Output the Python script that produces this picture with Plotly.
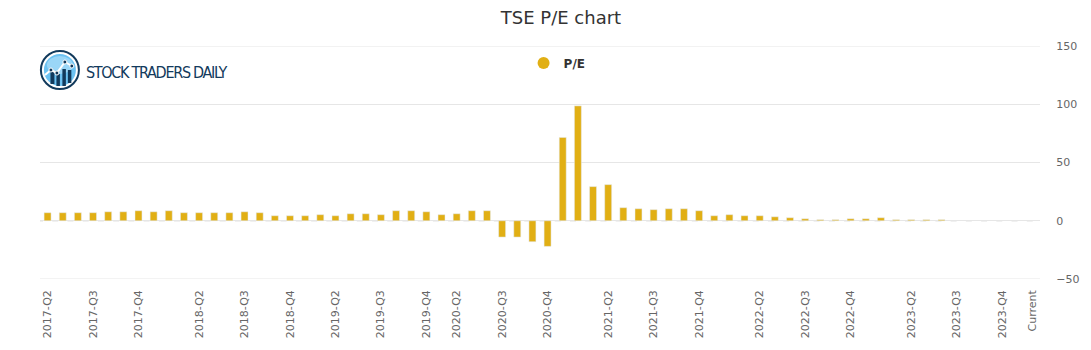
import plotly.graph_objects as go

# ---------------- data ----------------
pe_values = [
    6.9, 6.9, 6.9, 6.9, 7.7, 7.7, 8.6, 7.7, 8.6, 6.9,
    6.9, 6.9, 6.9, 7.7, 6.9, 4.3, 4.3, 4.3, 5.2, 4.3,
    6.0, 6.0, 5.2, 8.6, 8.6, 7.7, 5.2, 6.0, 8.6, 8.6,
    -14.0, -14.0, -18.0, -22.0, 71.5, 98.6, 29.3, 31.0, 11.2, 10.3,
    9.5, 10.3, 10.3, 8.6, 4.3, 5.2, 4.3, 4.3, 3.4, 2.6,
    1.7, 0.9, 0.9, 1.7, 1.7, 2.6, 0.9, 0.9, 0.9, 0.9,
    None, None, None, None, None, None,
]
x_index = list(range(len(pe_values)))
tick_positions = [0, 3, 6, 10, 13, 16, 19, 22, 25, 27, 30, 33, 37, 40, 43, 47, 50, 53, 57, 60, 63, 65]
tick_labels = ["2017-Q2", "2017-Q3", "2017-Q4", "2018-Q2", "2018-Q3", "2018-Q4",
               "2019-Q2", "2019-Q3", "2019-Q4", "2020-Q2", "2020-Q3", "2020-Q4",
               "2021-Q2", "2021-Q3", "2021-Q4", "2022-Q2", "2022-Q3", "2022-Q4",
               "2023-Q2", "2023-Q3", "2023-Q4", "Current"]
y_ticks = [-50, 0, 50, 100, 150]

BAR = "#E1AF14"
NAVY = "#123A5C"
GRID = "#e6e6e6"
W, H = 1091, 350
L, R, T, B = 40, 46, 46, 71
PW, PH = W - L - R, H - T - B


def px(xp):
    return (xp - L) / PW


def py(yp):
    return (H - B - yp) / PH


fig = go.Figure()
fig.add_trace(go.Bar(x=x_index, y=pe_values, marker_color=BAR, showlegend=False,
                     hoverinfo="y"))
fig.add_trace(go.Scatter(x=[None], y=[None], mode="markers", name="P/E",
                         marker=dict(color=BAR, size=12, symbol="circle")))

shapes = []
# edge gridlines (plotly omits gridlines exactly on the range edges)
for yv in (y_ticks[0], y_ticks[-1]):
    shapes.append(dict(type="line", xref="paper", yref="y", x0=0, x1=1, y0=yv, y1=yv,
                       line=dict(color=GRID, width=1), layer="below"))
# cover solid zero gridline, then dashed zero line
shapes.append(dict(type="line", xref="paper", yref="y", x0=0, x1=1, y0=0, y1=0,
                   line=dict(color="white", width=3), layer="below"))
n = len(pe_values)
shapes.append(dict(type="line", xref="x", yref="y", x0=0.5 - 3 / 15.227 - 1, x1=n - 0.5,
                   y0=0, y1=0, line=dict(color="#e2e2e2", width=1.5, dash="6px,9.227px"),
                   layer="below"))

# logo
cx, cy = 60, 70
shapes.append(dict(type="circle", xref="paper", yref="paper", xsizemode="pixel", ysizemode="pixel",
                   xanchor=px(cx), yanchor=py(cy), x0=-19, x1=19, y0=-19, y1=19,
                   line=dict(color=NAVY, width=2), fillcolor="white"))
shapes.append(dict(type="circle", xref="paper", yref="paper", xsizemode="pixel", ysizemode="pixel",
                   xanchor=px(cx), yanchor=py(cy), x0=-16, x1=16, y0=-16, y1=16,
                   line=dict(width=0), fillcolor="#6CC2F2"))
shapes.append(dict(type="circle", xref="paper", yref="paper", xsizemode="pixel", ysizemode="pixel",
                   xanchor=px(cx), yanchor=py(cy - 5), x0=-13, x1=13, y0=-9, y1=9,
                   line=dict(width=0), fillcolor="#9AD6F7"))
for (x0, x1, top, bot) in [(50.5, 54.5, 72, 84), (56.5, 60.0, 74, 86), (62.5, 66.0, 69, 86), (68.0, 71.5, 70, 83)]:
    shapes.append(dict(type="rect", xref="paper", yref="paper", x0=px(x0), x1=px(x1),
                       y0=py(bot), y1=py(top), line=dict(width=0), fillcolor=NAVY))
pts = [(45, 75), (51, 70), (57, 73), (65, 62), (72, 66)]
path = "M " + " L ".join(f"{px(a)},{py(b)}" for a, b in pts)
shapes.append(dict(type="path", xref="paper", yref="paper", path=path,
                   line=dict(color="white", width=2)))
for a, b in pts[1:]:
    shapes.append(dict(type="circle", xref="paper", yref="paper", xsizemode="pixel", ysizemode="pixel",
                       xanchor=px(a), yanchor=py(b), x0=-2, x1=2, y0=-2, y1=2,
                       line=dict(color="white", width=1), fillcolor=NAVY))

fig.update_layout(
    width=W, height=H,
    margin=dict(l=L, r=R, t=T, b=B),
    paper_bgcolor="white", plot_bgcolor="white",
    font=dict(family="DejaVu Sans, sans-serif", color="#666666", size=11),
    title=dict(text="TSE P/E chart", x=561 / W, xanchor="center", y=1 - 18 / H, yanchor="middle",
               xref="container", yref="container",
               font=dict(size=18, color="#333333", family="DejaVu Sans, sans-serif")),
    bargap=0.54,
    showlegend=True,
    legend=dict(orientation="h", x=px(526), xanchor="left", y=py(63), yanchor="middle",
                bgcolor="rgba(0,0,0,0)",
                font=dict(size=12, color="#333333", family="DejaVu Sans, sans-serif", weight="bold")),
    xaxis=dict(range=[-0.5, n - 0.5], tickmode="array", tickvals=tick_positions, ticktext=tick_labels,
               tickangle=-90, showgrid=False, zeroline=False, showline=False, ticks="",
               ticklabelstandoff=8, tickfont=dict(size=11, color="#666666")),
    yaxis=dict(range=[-50, 150], side="right", tickmode="array", tickvals=y_ticks,
               showgrid=True, gridcolor=GRID, gridwidth=1, zeroline=False, showline=False,
               ticks="outside", ticklen=13, tickcolor="rgba(0,0,0,0)",
               tickfont=dict(size=11, color="#666666")),
    shapes=shapes,
    annotations=[dict(text='<span style="letter-spacing:-1.3px">STOCK TRADERS DAILY</span>',
                      xref="paper", yref="paper", x=px(84), y=py(72),
                      xanchor="left", yanchor="middle", showarrow=False,
                      font=dict(family="Liberation Sans Narrow, Arial Narrow, DejaVu Sans Condensed, DejaVu Sans, sans-serif",
                                size=16, color=NAVY))],
)

fig.write_html("out.html")
